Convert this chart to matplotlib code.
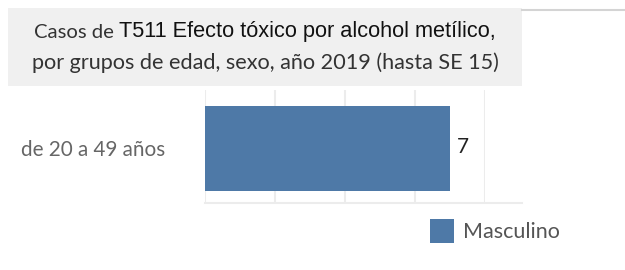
import matplotlib.pyplot as plt
from matplotlib.patches import Rectangle
from matplotlib.lines import Line2D

# ===================== Datos =====================
grupos = ["de 20 a 49 años"]
casos = [7]
sexo = "Masculino"
color_barra = "#4e79a7"
ticks_x = [0, 2, 4, 6, 8]

W, H = 625, 270
fig = plt.figure(figsize=(W / 100, H / 100), dpi=100)
FUENTE = "Lato"


def px(x, y):
    # pixeles (desde arriba-izquierda) -> fraccion de figura
    return x / W, 1 - y / H


# ===================== Caja del titulo =====================
x0, y0 = px(8, 86)
fig.patches.append(Rectangle((x0, y0), (522 - 8) / W, (86 - 8) / H,
                             transform=fig.transFigure, facecolor="#f0f0f0",
                             edgecolor="none", zorder=0))
fig.lines.append(Line2D([522 / W, 1], [1 - 9.5 / H, 1 - 9.5 / H],
                        transform=fig.transFigure, color="#d4d4d4", lw=1.5))

# ===================== Eje =====================
l, b = px(205, 203)
ax = fig.add_axes([l, b, (485 - 205) / W, (203 - 90) / H])
ax.barh(0, casos[0], height=1.5, color=color_barra, zorder=3)
ax.set_xlim(ticks_x[0], ticks_x[-1])
ax.set_ylim(-0.965, 1.035)
ax.set_xticks(ticks_x)
ax.set_yticks([])
ax.tick_params(axis="x", length=0, labelbottom=False)
ax.grid(axis="x", color="#ececec", lw=1.5, zorder=0)
for s in ax.spines.values():
    s.set_visible(False)
fig.lines.append(Line2D([205 / W, 522 / W], [1 - 203 / H, 1 - 203 / H],
                        transform=fig.transFigure, color="#ececec", lw=1.5))

t_val = ax.text(casos[0] + 0.2, 0.02, str(casos[0]), va="center", ha="left",
                fontsize=15, color="#222222", family=FUENTE, zorder=4)

t_lab = fig.text(*px(165, 150), grupos[0], ha="right", va="center",
                 fontsize=14, color="#666666", family=FUENTE)

# ===================== Leyenda =====================
lx, ly = px(430, 243)
fig.patches.append(Rectangle((lx, ly), 24 / W, 24 / H, transform=fig.transFigure,
                             facecolor=color_barra, edgecolor="none"))
t_leg = fig.text(*px(463, 232), sexo, ha="left", va="center",
                 fontsize=14, color="#555555", family=FUENTE)

# ===================== Titulo =====================
t_a = fig.text(0, 1 - 32 / H, "Casos de ", ha="left", va="center",
               fontsize=14, color="#333333", family=FUENTE)
t_b = fig.text(0, 1 - 32 / H, "T511 Efecto tóxico por alcohol metílico,",
               ha="left", va="center", fontsize=15, color="#111111",
               family="Liberation Sans")
t_c = fig.text(265 / W, 1 - 63 / H, "por grupos de edad, sexo, año 2019 (hasta SE 15)",
               ha="center", va="center", fontsize=14, color="#333333",
               family=FUENTE)

# ajustar tamanos al ancho medido en la imagen original
fig.canvas.draw()
r = fig.canvas.get_renderer()
for t, ancho in [(t_a, 85), (t_b, 380), (t_c, 470), (t_lab, 145), (t_leg, 97)]:
    w = t.get_window_extent(r).width
    t.set_fontsize(t.get_fontsize() * ancho / w)

fig.canvas.draw()
wa = t_a.get_window_extent(r).width
wb = t_b.get_window_extent(r).width
start = 265 - (wa + wb) / 2
t_a.set_x(start / W)
t_b.set_x((start + wa) / W)

fig.savefig("out.png", dpi=100)
